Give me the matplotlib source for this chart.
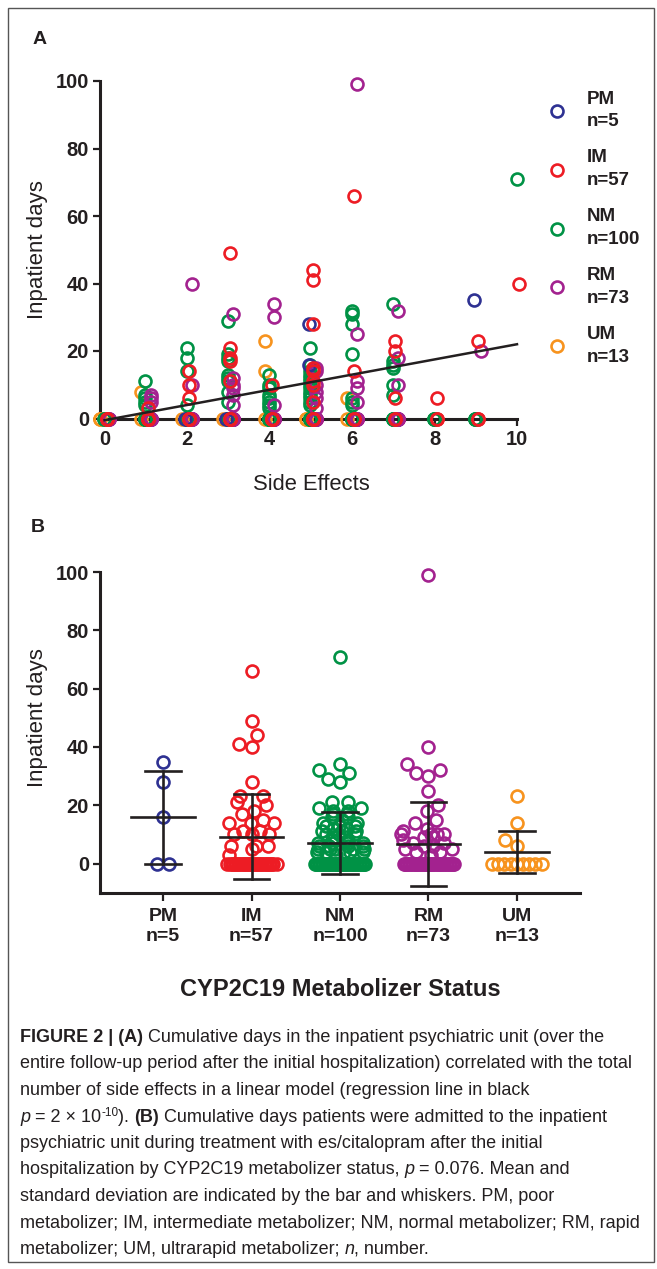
import numpy as np
import matplotlib
matplotlib.use('Agg')
import matplotlib.pyplot as plt
from matplotlib.lines import Line2D
from matplotlib.patches import Rectangle

plt.rcParams['font.family'] = ['Liberation Sans', 'DejaVu Sans']

W, H = 657, 1269
INK = '#231f20'

groups = ['PM', 'IM', 'NM', 'RM', 'UM']
group_n = [5, 57, 100, 73, 13]
colors = ['#2e3192', '#ed1c24', '#009245', '#a3228f', '#f7931e']

pm_se = [2, 3, 5, 5, 9]
pm_days = [0, 0, 16, 28, 35]

im_se = [0, 0, 0,
         1, 1, 1, 1, 1,
         2, 2, 2, 2, 2, 2, 2,
         3, 3, 3, 3, 3, 3, 3, 3, 3,
         4, 4, 4, 4, 4,
         5, 5, 5, 5, 5, 5, 5, 5, 5, 5, 5, 5,
         6, 6, 6, 6,
         7, 7, 7, 7, 7,
         8, 8, 8,
         9, 9, 9,
         10]
im_days = [0, 0, 0,
           3, 0, 0, 0, 0,
           14, 10, 6, 0, 0, 0, 0,
           49, 21, 18, 17, 11, 0, 0, 0, 0,
           10, 0, 0, 0, 0,
           44, 41, 28, 15, 14, 11, 10, 5, 0, 0, 0, 0,
           66, 14, 0, 0,
           23, 20, 6, 0, 0,
           6, 0, 0,
           23, 0, 0,
           40]

nm_se = [0, 0,
         1, 1, 1, 1, 1, 1, 1, 1, 1, 1,
         2, 2, 2, 2, 2, 2, 2, 2, 2,
         3, 3, 3, 3, 3, 3, 3, 3, 3, 3, 3, 3, 3, 3, 3,
         4, 4, 4, 4, 4, 4, 4, 4, 4, 4, 4, 4, 4, 4,
         5, 5, 5, 5, 5, 5, 5, 5, 5, 5, 5, 5, 5, 5, 5, 5, 5, 5, 5, 5,
         6, 6, 6, 6, 6, 6, 6, 6, 6, 6, 6, 6, 6,
         7, 7, 7, 7, 7, 7, 7, 7, 7, 7,
         8, 8, 8,
         9, 9, 9,
         10]
nm_days = [0, 0,
           11, 7, 6, 5, 4, 0, 0, 0, 0, 0,
           21, 18, 14, 4, 0, 0, 0, 0, 0,
           29, 19, 18, 17, 13, 12, 11, 8, 5, 0, 0, 0, 0, 0, 0,
           13, 10, 9, 7, 6, 5, 4, 3, 0, 0, 0, 0, 0, 0,
           21, 16, 14, 13, 12, 11, 10, 9, 8, 7, 6, 5, 4, 0, 0, 0, 0, 0, 0, 0,
           32, 31, 28, 19, 6, 5, 4, 0, 0, 0, 0, 0, 0,
           34, 17, 16, 15, 10, 7, 0, 0, 0, 0,
           0, 0, 0,
           0, 0, 0,
           71]

rm_se = [0, 0, 0,
         1, 1, 1, 1, 1, 1, 1, 1, 1,
         2, 2, 2, 2, 2, 2, 2,
         3, 3, 3, 3, 3, 3, 3, 3, 3, 3, 3, 3, 3,
         4, 4, 4, 4, 4, 4, 4, 4, 4,
         5, 5, 5, 5, 5, 5, 5, 5, 5, 5, 5, 5, 5,
         6, 6, 6, 6, 6, 6, 6, 6, 6, 6,
         7, 7, 7, 7, 7, 7, 7, 7,
         9]
rm_days = [0, 0, 0,
           7, 6, 5, 0, 0, 0, 0, 0, 0,
           40, 10, 0, 0, 0, 0, 0,
           31, 12, 10, 9, 7, 4, 0, 0, 0, 0, 0, 0, 0,
           34, 30, 4, 0, 0, 0, 0, 0, 0,
           15, 14, 10, 8, 6, 3, 0, 0, 0, 0, 0, 0, 0,
           99, 25, 11, 9, 5, 0, 0, 0, 0, 0,
           32, 18, 10, 0, 0, 0, 0, 0,
           20]

um_se = [0, 0, 1, 1, 2, 3, 4, 4, 4, 5, 5, 6, 6]
um_days = [0, 0, 8, 0, 0, 0, 23, 14, 0, 0, 0, 6, 0]

# regression line (panel A), read at x = 0 and x = 10
reg_x = [0, 10]
reg_y = [-0.5, 22]

se_data = [pm_se, im_se, nm_se, rm_se, um_se]
day_data = [pm_days, im_days, nm_days, rm_days, um_days]

MS, MEW = 8.6, 1.9


def box(x0, y0, x1, y1):
    return [x0 / W, 1 - y1 / H, (x1 - x0) / W, (y1 - y0) / H]


def style_axes(ax):
    for s in ['top', 'right']:
        ax.spines[s].set_visible(False)
    for s in ['left', 'bottom']:
        ax.spines[s].set_linewidth(2.2)
        ax.spines[s].set_color(INK)
    ax.tick_params(width=1.6, length=5, color=INK, labelcolor=INK,
                   labelsize=14.5, pad=3)
    for lab in ax.get_xticklabels() + ax.get_yticklabels():
        lab.set_fontweight('bold')


fig = plt.figure(figsize=(W / 100, H / 100), dpi=100)

# ---------------- panel A ----------------
axA = fig.add_axes(box(100, 81, 517, 418.5))
axA.set_xlim(-0.11, 10)
axA.set_ylim(0, 100)
axA.set_xticks(range(0, 11, 2))
axA.set_yticks(range(0, 101, 20))
style_axes(axA)

offA = {'UM': -0.12, 'PM': -0.05, 'NM': -0.01, 'IM': 0.05, 'RM': 0.12}
for k in [4, 2, 3, 0, 1]:
    axA.plot(np.array(se_data[k]) + offA[groups[k]], day_data[k], 'o', ms=MS,
             mfc='none', mec=colors[k], mew=MEW, clip_on=False, zorder=3)
axA.plot(reg_x, reg_y, color=INK, lw=1.8, clip_on=False, zorder=4)

# legend
for i, (g, n, c) in enumerate(zip(groups, group_n, colors)):
    y = 111 + i * 58.8
    fig.add_artist(Line2D([557 / W], [1 - y / H], marker='o', ms=MS, mfc='none',
                          mec=c, mew=MEW, transform=fig.transFigure))
    fig.text(587 / W, 1 - (y - 12) / H, g, fontsize=13.5, fontweight='bold',
             color=INK, va='center')
    fig.text(587 / W, 1 - (y + 11) / H, 'n=%d' % n, fontsize=13.5,
             fontweight='bold', color=INK, va='center')

fig.text(40 / W, 1 - 39 / H, 'A', fontsize=14, fontweight='bold', color=INK,
         ha='center', va='center')
fig.text(37 / W, 1 - 250 / H, 'Inpatient days', fontsize=16, rotation=90,
         color=INK, ha='center', va='center')
fig.text(311 / W, 1 - 484 / H, 'Side Effects', fontsize=15.8, color=INK,
         ha='center', va='center')

# ---------------- panel B ----------------
axB = fig.add_axes(box(100, 572, 580, 892.7))
axB.set_xlim(0.288, 5.712)
axB.set_ylim(-10, 100)
axB.set_yticks(range(0, 101, 20))
axB.set_xticks(range(1, 6))
axB.set_xticklabels(['%s\nn=%d' % (g, n) for g, n in zip(groups, group_n)])
style_axes(axB)
axB.tick_params(axis='x', length=6, pad=5, labelsize=14)

bb = axB.get_window_extent()
xpu = bb.width / (5.712 - 0.288)
ypu = bb.height / 110.0


def swarm(vals, diam=12.5, half_w=25.0, step=0.5):
    vals = np.asarray(vals, float)
    cands = np.arange(-half_w, half_w + 1e-9, step)
    cands = cands[np.argsort(np.abs(cands), kind='stable')]
    offs = np.zeros(len(vals))
    placed = []
    for i in np.argsort(vals, kind='stable'):
        y = vals[i] * ypu
        near = [p for p in placed if abs(p[1] - y) < diam]
        x = 0.0
        if near:
            arr = np.array(near)
            d = np.array([np.min(np.hypot(arr[:, 0] - c, arr[:, 1] - y)) for c in cands])
            ok = np.where(d >= diam)[0]
            x = cands[ok[0]] if len(ok) else cands[np.argmax(d)]
        placed.append((x, y))
        offs[i] = x
    for v in np.unique(vals):
        idx = np.where(vals == v)[0]
        if len(idx) > 1:
            offs[idx] -= offs[idx].mean()
    return offs / xpu


for k, vals in enumerate(day_data):
    xs = k + 1 + swarm(vals)
    axB.plot(xs, vals, 'o', ms=MS, mfc='none', mec=colors[k], mew=MEW,
             clip_on=False, zorder=3)
    m = np.mean(vals)
    sd = np.std(vals, ddof=1)
    cx = k + 1
    axB.plot([cx - 0.36, cx + 0.36], [m, m], color=INK, lw=1.9, zorder=4)
    axB.plot([cx, cx], [m - sd, m + sd], color=INK, lw=1.9, zorder=4)
    for yy in (m - sd, m + sd):
        axB.plot([cx - 0.2, cx + 0.2], [yy, yy], color=INK, lw=1.9, zorder=4)

fig.text(38 / W, 1 - 527 / H, 'B', fontsize=14, fontweight='bold', color=INK,
         ha='center', va='center')
fig.text(37 / W, 1 - 718 / H, 'Inpatient days', fontsize=16, rotation=90,
         color=INK, ha='center', va='center')
fig.text(340 / W, 1 - 990 / H, 'CYP2C19 Metabolizer Status', fontsize=17,
         fontweight='bold', color=INK, ha='center', va='center')

# ---------------- caption ----------------
caption = [
    [('FIGURE 2 | (A)', 'b'), (' Cumulative days in the inpatient psychiatric unit (over the', 'r')],
    [('entire follow-up period after the initial hospitalization) correlated with the total', 'r')],
    [('number of side effects in a linear model (regression line in black', 'r')],
    [('p', 'i'), (' = 2 \u00d7 10', 'r'), ('-10', 's'), ('). ', 'r'), ('(B)', 'b'),
     (' Cumulative days patients were admitted to the inpatient', 'r')],
    [('psychiatric unit during treatment with es/citalopram after the initial', 'r')],
    [('hospitalization by CYP2C19 metabolizer status, ', 'r'), ('p', 'i'), (' = 0.076. Mean and', 'r')],
    [('standard deviation are indicated by the bar and whiskers. PM, poor', 'r')],
    [('metabolizer; IM, intermediate metabolizer; NM, normal metabolizer; RM, rapid', 'r')],
    [('metabolizer; UM, ultrarapid metabolizer; ', 'r'), ('n', 'i'), (', number.', 'r')],
]
cap_size = 13
run_kw = {
    'r': dict(fontsize=cap_size),
    'b': dict(fontsize=cap_size, fontweight='bold'),
    'i': dict(fontsize=cap_size, fontstyle='italic'),
    's': dict(fontsize=cap_size * 0.65),
}
renderer = fig.canvas.get_renderer()


def run_width(s, kw):
    t1 = fig.text(0, 0, '|' + s + '|', **kw)
    t2 = fig.text(0, 0, '||', **kw)
    w = t1.get_window_extent(renderer).width - t2.get_window_extent(renderer).width
    t1.remove()
    t2.remove()
    return w


for li, runs in enumerate(caption):
    base = 1042 + li * 26.5
    x = 20.0
    for s, st in runs:
        kw = run_kw[st]
        dy = 6 if st == 's' else 0
        fig.text(x / W, 1 - (base - dy) / H, s, color=INK, va='baseline', **kw)
        x += run_width(s, kw)

fig.add_artist(Rectangle((8 / W, 1 - 1262 / H), (654 - 8) / W, (1262 - 8) / H,
                         transform=fig.transFigure, fill=False, ec='#555555', lw=1))

fig.savefig('out.png', dpi=100)
